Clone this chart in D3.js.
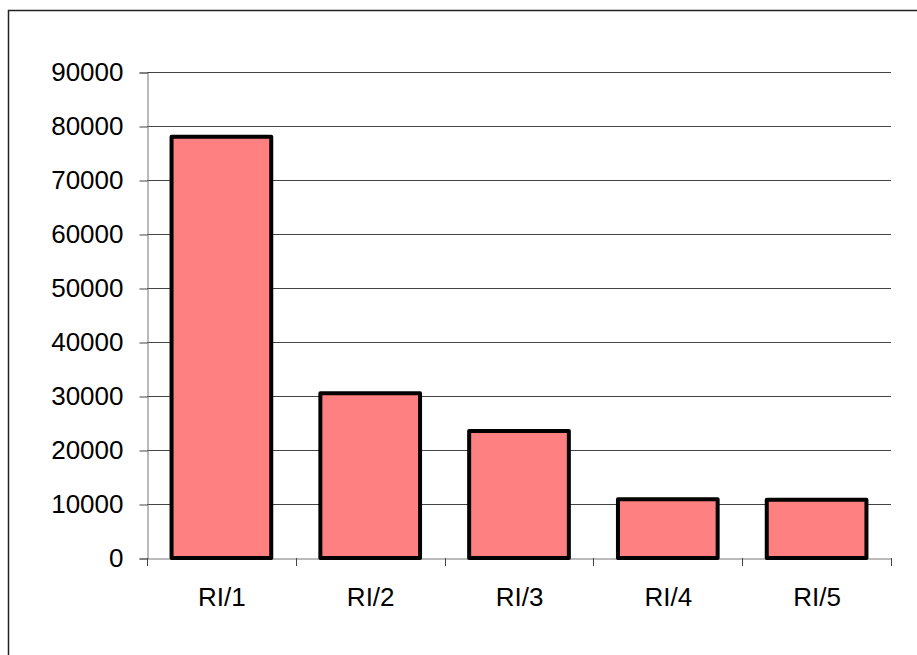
<html>
  <head>
    <meta charset="utf-8">
    <script src="https://d3js.org/d3.v7.min.js"></script>
    <style>
      body { margin: 0; background: #fff; }
      text { font-family: "Liberation Sans", Arial, sans-serif; }
    </style>
  </head>
  <body>
    <svg id="grafico" width="917" height="655"></svg>
    <script>
    // dados
    let categories = ["RI/1", "RI/2", "RI/3", "RI/4", "RI/5"];
    let values = [78000, 30500, 23500, 10900, 10800];
    let yTicks = [0, 10000, 20000, 30000, 40000, 50000, 60000, 70000, 80000, 90000];

    let svg = d3.select("#grafico");
    let plotLeft = 147, plotRight = 891, plotTop = 72, plotBottom = 558;

    // moldura externa
    svg.append("rect")
      .attr("x", 8.5).attr("y", 10.5)
      .attr("width", 930).attr("height", 670)
      .attr("fill", "none").attr("stroke", "#222").attr("stroke-width", 1.5);

    let x = d3.scaleBand().domain(categories).range([plotLeft, plotRight]).paddingInner(0.33).paddingOuter(0.165);
    let xb = d3.scaleBand().domain(categories).range([plotLeft, plotRight]);
    let y = d3.scaleLinear().domain([0, 90000]).range([plotBottom, plotTop]);

    // grade
    svg.append("g").selectAll("line").data(yTicks.slice(1)).enter().append("line")
      .attr("x1", plotLeft).attr("x2", plotRight)
      .attr("y1", d => Math.round(y(d)) + 0.5).attr("y2", d => Math.round(y(d)) + 0.5)
      .attr("stroke", "#444").attr("stroke-width", 1);

    // eixo y
    let yAxis = svg.append("g").attr("transform", `translate(${plotLeft + 0.5},0.5)`)
      .call(d3.axisLeft(y).tickValues(yTicks).tickSize(8).tickPadding(16).tickFormat(d3.format("d")));
    yAxis.select(".domain").attr("stroke", "#777");
    yAxis.selectAll(".tick line").attr("stroke", "#444");
    yAxis.selectAll("text").attr("font-size", 26).attr("fill", "#000")
      .attr("font-family", "Liberation Sans, Arial, sans-serif");

    // eixo x
    let xAxis = svg.append("g").attr("transform", `translate(0.5,${plotBottom + 0.5})`)
      .call(d3.axisBottom(xb).tickSize(0).tickPadding(29));
    xAxis.select(".domain").attr("stroke", "#777");
    xAxis.selectAll("text").attr("font-size", 26).attr("fill", "#000")
      .attr("font-family", "Liberation Sans, Arial, sans-serif");
    svg.append("g").selectAll("line").data(categories.concat(["end"])).enter().append("line")
      .attr("x1", (d, i) => Math.round(plotLeft + i * xb.bandwidth()) + 0.5)
      .attr("x2", (d, i) => Math.round(plotLeft + i * xb.bandwidth()) + 0.5)
      .attr("y1", plotBottom).attr("y2", plotBottom + 8)
      .attr("stroke", "#444");

    // barras
    svg.append("g").selectAll("rect").data(values).enter().append("rect")
      .attr("x", (d, i) => x(categories[i]))
      .attr("y", d => y(d))
      .attr("width", x.bandwidth())
      .attr("height", d => plotBottom - y(d))
      .attr("fill", "#FF8080")
      .attr("stroke", "#000")
      .attr("stroke-width", 4)
      .attr("stroke-linejoin", "round");
    </script>
  </body>
</html>
